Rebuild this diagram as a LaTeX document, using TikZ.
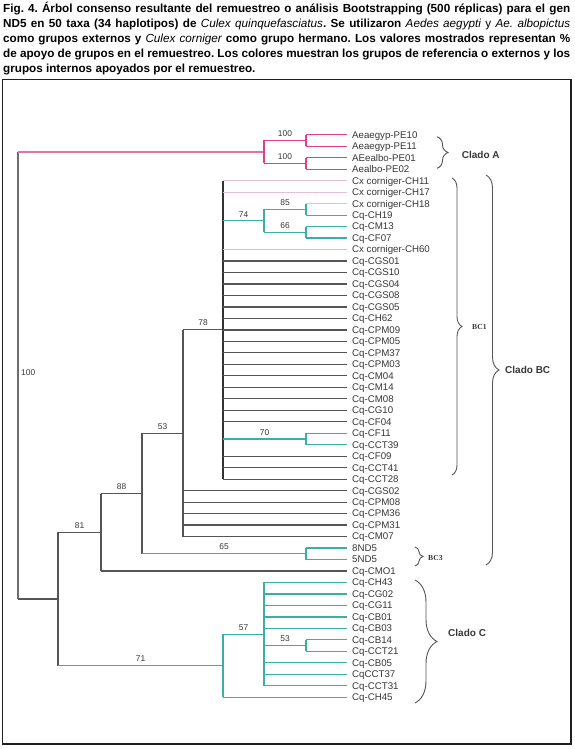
\documentclass[tikz,border=0pt]{standalone}
\usepackage{fontspec}
\setmainfont{Liberation Sans}
\newfontfamily\serifbc{Liberation Serif}
\usetikzlibrary{decorations.pathreplacing}
\frenchspacing
\definecolor{pinkA}{HTML}{E0408A}
\definecolor{pinkR}{HTML}{E373AA}
\definecolor{palepink}{HTML}{E4C0D6}
\definecolor{tealc}{HTML}{3AAFA8}
\definecolor{grayc}{HTML}{555555}
\definecolor{txt}{HTML}{363636}
\definecolor{bracec}{HTML}{555555}
\begin{document}
\begin{tikzpicture}[x=1pt,y=-1pt,
  edge/.style={line width=1.2pt},
  ge/.style={edge,draw=grayc},
  te/.style={edge,draw=tealc},
  pe/.style={edge,draw=pinkA},
  ppe/.style={edge,draw=palepink},
  leaf/.style={anchor=west,inner xsep=5pt,inner ysep=0pt,text height=6.9pt,text depth=0pt,font=\fontsize{9.7}{10}\selectfont,text=txt},
  bs/.style={above,inner sep=0pt,yshift=3.2pt,font=\fontsize{8.4}{9}\selectfont,text=txt},
  clado/.style={anchor=west,inner sep=0pt,font=\bfseries\fontsize{10}{11}\selectfont,text=txt},
  bclab/.style={anchor=west,inner sep=0pt,font=\serifbc\bfseries\fontsize{7.6}{8}\selectfont,text=txt},
  brc/.style={draw=bracec,line width=0.9pt,decorate}]
\useasboundingbox (0,0) rectangle (575,749);
% caption
\node[anchor=base west,text width=567pt,align=justify,inner sep=0pt,font=\bfseries\fontsize{11.7}{15}\selectfont,text=black] (cap) at (3,12.3) {\frenchspacing Fig. 4. Árbol consenso resultante del remuestreo o análisis Bootstrapping (500 réplicas) para el gen\linebreak ND5 en 50 taxa (34 haplotipos) de {\mdseries\itshape Culex quinquefasciatus}. Se utilizaron {\mdseries\itshape Aedes aegypti} {\mdseries y} {\mdseries\itshape Ae. albopictus}\linebreak como grupos externos y {\mdseries\itshape Culex corniger} como grupo hermano. Los valores mostrados representan \%\linebreak de apoyo de grupos en el remuestreo. Los colores muestran los grupos de referencia o externos y los\linebreak grupos internos apoyados por el remuestreo.};
% frame
\draw[line width=1.3pt,draw=black!88] (2.5,79.5) rectangle (571,744);
% leaves
\node[leaf] (l1) at (347,134.7) {Aeaegyp-PE10};
\node[leaf] (l2) at (347,146.2) {Aeaegyp-PE11};
\node[leaf] (l3) at (347,157.7) {AEealbo-PE01};
\node[leaf] (l4) at (347,169.1) {Aealbo-PE02};
\node[leaf] (l5) at (347,180.6) {Cx corniger-CH11};
\node[leaf] (l6) at (347,192.1) {Cx corniger-CH17};
\node[leaf] (l7) at (347,203.6) {Cx corniger-CH18};
\node[leaf] (l8) at (347,215.1) {Cq-CH19};
\node[leaf] (l9) at (347,226.5) {Cq-CM13};
\node[leaf] (l10) at (347,238.0) {Cq-CF07};
\node[leaf] (l11) at (347,249.5) {Cx corniger-CH60};
\node[leaf] (l12) at (347,261.0) {Cq-CGS01};
\node[leaf] (l13) at (347,272.5) {Cq-CGS10};
\node[leaf] (l14) at (347,283.9) {Cq-CGS04};
\node[leaf] (l15) at (347,295.4) {Cq-CGS08};
\node[leaf] (l16) at (347,306.9) {Cq-CGS05};
\node[leaf] (l17) at (347,318.4) {Cq-CH62};
\node[leaf] (l18) at (347,329.9) {Cq-CPM09};
\node[leaf] (l19) at (347,341.3) {Cq-CPM05};
\node[leaf] (l20) at (347,352.8) {Cq-CPM37};
\node[leaf] (l21) at (347,364.3) {Cq-CPM03};
\node[leaf] (l22) at (347,375.8) {Cq-CM04};
\node[leaf] (l23) at (347,387.3) {Cq-CM14};
\node[leaf] (l24) at (347,398.7) {Cq-CM08};
\node[leaf] (l25) at (347,410.2) {Cq-CG10};
\node[leaf] (l26) at (347,421.7) {Cq-CF04};
\node[leaf] (l27) at (347,433.2) {Cq-CF11};
\node[leaf] (l28) at (347,444.7) {Cq-CCT39};
\node[leaf] (l29) at (347,456.1) {Cq-CF09};
\node[leaf] (l30) at (347,467.6) {Cq-CCT41};
\node[leaf] (l31) at (347,479.1) {Cq-CCT28};
\node[leaf] (l32) at (347,490.6) {Cq-CGS02};
\node[leaf] (l33) at (347,502.1) {Cq-CPM08};
\node[leaf] (l34) at (347,513.5) {Cq-CPM36};
\node[leaf] (l35) at (347,525.0) {Cq-CPM31};
\node[leaf] (l36) at (347,536.5) {Cq-CM07};
\node[leaf] (l37) at (347,548.0) {8ND5};
\node[leaf] (l38) at (347,559.5) {5ND5};
\node[leaf] (l39) at (347,571.0) {Cq-CMO1};
\node[leaf] (l40) at (347,582.4) {Cq-CH43};
\node[leaf] (l41) at (347,593.9) {Cq-CG02};
\node[leaf] (l42) at (347,605.4) {Cq-CG11};
\node[leaf] (l43) at (347,616.9) {Cq-CB01};
\node[leaf] (l44) at (347,628.4) {Cq-CB03};
\node[leaf] (l45) at (347,639.8) {Cq-CB14};
\node[leaf] (l46) at (347,651.3) {Cq-CCT21};
\node[leaf] (l47) at (347,662.8) {Cq-CB05};
\node[leaf] (l48) at (347,674.3) {CqCCT37};
\node[leaf] (l49) at (347,685.8) {Cq-CCT31};
\node[leaf] (l50) at (347,697.3) {Cq-CH45};
% internal nodes
\coordinate (root) at (18,375.4);
\coordinate (nA) at (264,151.9);
\coordinate (nA1) at (306,140.45);
\coordinate (nA2) at (306,163.4);
\coordinate (nIn) at (58,598.9);
\coordinate (n81) at (101,532.2);
\coordinate (n88) at (142,493.5);
\coordinate (n53) at (183,433.2);
\coordinate (n78) at (223,329.85);
\coordinate (n74) at (264,220.8);
\coordinate (n85) at (306,209.35);
\coordinate (n66) at (306,232.25);
\coordinate (n70) at (306,438.95);
\coordinate (nBC) at (306,553.75);
\coordinate (nC) at (223,665.7);
\coordinate (n57) at (264,634.1);
\coordinate (n53b) at (306,645.55);
% root
\draw[ge,draw=grayc!85] (root|-nA) -- (root|-nIn);
\node[bs,anchor=west,xshift=3pt,yshift=0pt] (rootlab) at (root) {100};
\draw[edge,draw=pinkR] (root|-nA) -- (nA);
\draw[ge] (root|-nIn) -- (nIn);
% clade A
\draw[pe] (nA|-nA1) -- (nA|-nA2);
\draw[pe] (nA|-nA1) -- node[bs]{100} (nA1);
\draw[pe] (nA|-nA2) -- node[bs]{100} (nA2);
\draw[pe] (nA1|-l1) -- (nA1|-l2);
\draw[pe] (nA1|-l1) -- (l1.west);
\draw[pe] (nA1|-l2) -- (l2.west);
\draw[pe] (nA2|-l3) -- (nA2|-l4);
\draw[pe] (nA2|-l3) -- (l3.west);
\draw[pe] (nA2|-l4) -- (l4.west);
% ingroup
\draw[ge] (nIn|-n81) -- (nIn|-nC);
\draw[ge] (nIn|-n81) -- node[bs]{81} (n81);
\draw[te] (nIn|-nC) -- node[bs]{71} (nC);
\draw[ge] (n81|-n88) -- (n81|-l39);
\draw[ge] (n81|-n88) -- node[bs]{88} (n88);
\draw[ge] (n81|-l39) -- (l39.west);
\draw[ge] (n88|-n53) -- (n88|-nBC);
\draw[ge] (n88|-n53) -- node[bs]{53} (n53);
\draw[te] (n88|-nBC) -- node[bs]{65} (nBC);
\draw[te] (nBC|-l37) -- (nBC|-l38);
\draw[te] (nBC|-l37) -- (l37.west);
\draw[te] (nBC|-l38) -- (l38.west);
% node 53
\draw[ge] (n53|-n78) -- (n53|-l36);
\draw[ge] (n53|-n78) -- node[bs]{78} (n78);
\foreach \i in {32,...,36} {\draw[ge] (n53|-l\i) -- (l\i.west);}
% node 78
\draw[ge,draw=black!80] (n78|-l5) -- (n78|-l31);
\draw[ppe] (n78|-l5) -- (l5.west);
\draw[ppe] (n78|-l6) -- (l6.west);
\draw[te] (n78|-n74) -- node[bs]{74} (n74);
\draw[ppe] (n78|-l11) -- (l11.west);
\foreach \i in {12,...,26} {\draw[ge] (n78|-l\i) -- (l\i.west);}
\draw[te] (n78|-n70) -- node[bs]{70} (n70);
\foreach \i in {29,30,31} {\draw[ge] (n78|-l\i) -- (l\i.west);}
% node 74
\draw[te] (n74|-n85) -- (n74|-n66);
\draw[te] (n74|-n85) -- node[bs]{85} (n85);
\draw[te] (n74|-n66) -- node[bs]{66} (n66);
\draw[te] (n85|-l7) -- (n85|-l8);
\draw[ppe] (n85|-l7) -- (l7.west);
\draw[te] (n85|-l8) -- (l8.west);
\draw[te] (n66|-l9) -- (n66|-l10);
\draw[te] (n66|-l9) -- (l9.west);
\draw[te] (n66|-l10) -- (l10.west);
% node 70
\draw[te] (n70|-l27) -- (n70|-l28);
\draw[te] (n70|-l27) -- (l27.west);
\draw[te] (n70|-l28) -- (l28.west);
% clade C
\draw[te] (nC|-n57) -- (nC|-l50);
\draw[te] (nC|-n57) -- node[bs]{57} (n57);
\draw[te] (nC|-l50) -- (l50.west);
\draw[te] (n57|-l40) -- (n57|-l49);
\foreach \i in {40,...,44,47,48,49} {\draw[te] (n57|-l\i) -- (l\i.west);}
\draw[te] (n57|-n53b) -- node[bs]{53} (n53b);
\draw[te] (n53b|-l45) -- (n53b|-l46);
\draw[te] (n53b|-l45) -- (l45.west);
\draw[te] (n53b|-l46) -- (l46.west);
% braces
\coordinate (bAt) at (437,136.7); \coordinate (bAb) at (437,168.3);
\coordinate (b1t) at (452,178); \coordinate (b1b) at (452,475);
\coordinate (bBCt) at (486,175); \coordinate (bBCb) at (486,565);
\coordinate (b3t) at (415,547); \coordinate (b3b) at (415,566);
\coordinate (bCt) at (415,580); \coordinate (bCb) at (415,703);
\draw[brc,decoration={brace,amplitude=11pt}] (bAt) -- (bAb);
\draw[brc,decoration={brace,amplitude=10pt}] (b1t) -- (b1b);
\draw[brc,decoration={brace,amplitude=13pt}] (bBCt) -- (bBCb);
\draw[brc,decoration={brace,amplitude=8pt}] (b3t) -- (b3b);
\draw[brc,decoration={brace,amplitude=22pt}] (bCt) -- (bCb);
\node[clado] (cA) at (461.7,155) {Clado A};
\node[clado] (cBC) at (505,370) {Clado BC};
\node[clado] (cC) at (448,633) {Clado C};
\node[bclab] (bc1) at (472,327) {BC1};
\node[bclab] (bc3) at (428,558) {BC3};
\end{tikzpicture}
\end{document}
